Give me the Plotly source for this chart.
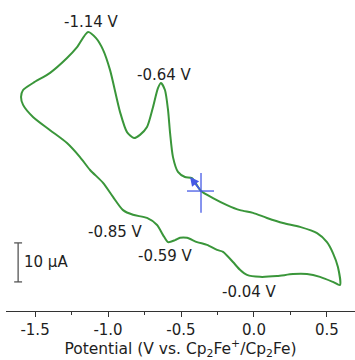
import plotly.graph_objects as go

# Cyclic voltammogram (potential in V, current in µA, arbitrary zero)
potential = [-0.363, -0.425, -0.473, -0.521, -0.555, -0.575, -0.589, -0.610, -0.637, -0.658,
             -0.692, -0.733, -0.781, -0.822, -0.870, -0.918, -0.986, -1.034, -1.082, -1.137,
             -1.212, -1.281, -1.397, -1.514, -1.582, -1.596, -1.582, -1.514, -1.397, -1.281,
             -1.192, -1.123, -1.034, -0.966, -0.897, -0.829, -0.733, -0.664, -0.623, -0.589,
             -0.541, -0.507, -0.459, -0.390, -0.322, -0.253, -0.212, -0.144, -0.096, -0.048,
             0.041, 0.158, 0.267, 0.363, 0.452, 0.541, 0.589, 0.575, 0.541, 0.500,
             0.432, 0.315, 0.199, 0.089, -0.007, -0.096, -0.185, -0.281, -0.363]
current = [2.3, 5.6, 5.9, 7.2, 11.0, 17.2, 23.1, 28.2, 30.0, 28.7,
           23.8, 18.7, 16.7, 15.9, 17.4, 22.6, 33.3, 38.5, 41.5, 43.1,
           39.2, 36.4, 32.6, 30.0, 28.2, 26.4, 24.4, 21.3, 17.9, 14.6,
           11.0, 7.7, 4.4, 0.8, -2.6, -3.8, -4.6, -6.4, -9.0, -10.8,
           -10.3, -9.7, -9.7, -10.8, -11.5, -12.8, -13.3, -15.9, -17.9, -19.2,
           -19.7, -19.5, -19.0, -19.0, -19.7, -21.0, -21.8, -17.2, -13.6, -10.8,
           -8.5, -6.9, -5.9, -4.6, -3.3, -2.6, -1.3, 0.5, 2.3]

peak_labels = ["-1.14 V", "-0.64 V", "-0.85 V", "-0.59 V", "-0.04 V"]
peak_label_x = [-1.116, -0.616, -0.952, -0.603, -0.034]
peak_label_y = [45.6, 32.1, -8.2, -14.4, -23.6]

tick_vals = [-1.5, -1.0, -0.5, 0.0, 0.5]
tick_text = ["-1.5", "-1.0", "-0.5", "0.0", "0.5"]

scale_bar_uA = 10
start_potential = -0.363
start_current = 2.3

green = "rgb(58,150,58)"
blue = "rgb(70,90,230)"
text_col = "#1e1e1e"
font_family = "DejaVu Sans, Liberation Sans, Arial, sans-serif"

fig = go.Figure()
fig.add_trace(go.Scatter(x=potential, y=current, mode="lines",
                         line=dict(color=green, width=2, shape="spline", smoothing=0.7),
                         hoverinfo="skip", showlegend=False))

for t, x, y in zip(peak_labels, peak_label_x, peak_label_y):
    fig.add_annotation(x=x, y=y, text=t, showarrow=False,
                       font=dict(size=15, color=text_col, family=font_family))

# start marker (cross) and scan-direction arrow
fig.add_shape(type="line", x0=start_potential - 0.096, x1=start_potential + 0.089,
              y0=start_current, y1=start_current, line=dict(color=blue, width=1.3))
fig.add_shape(type="line", x0=start_potential, x1=start_potential,
              y0=start_current + 4.6, y1=start_current - 5.6, line=dict(color=blue, width=1.3))
fig.add_annotation(x=-0.438, y=5.9, ax=start_potential, ay=start_current,
                   xref="x", yref="y", axref="x", ayref="y", text="",
                   showarrow=True, arrowhead=2, arrowsize=1, arrowwidth=1.8, arrowcolor=blue)

# scale bar
sb_x = -1.616
sb_y0 = -21.0
sb_y1 = sb_y0 + scale_bar_uA
bar_col = "#555555"
fig.add_shape(type="line", x0=sb_x, x1=sb_x, y0=sb_y0, y1=sb_y1, line=dict(color=bar_col, width=1.3))
fig.add_shape(type="line", x0=sb_x - 0.027, x1=sb_x + 0.027, y0=sb_y0, y1=sb_y0, line=dict(color=bar_col, width=1.3))
fig.add_shape(type="line", x0=sb_x - 0.027, x1=sb_x + 0.027, y0=sb_y1, y1=sb_y1, line=dict(color=bar_col, width=1.3))
fig.add_annotation(x=sb_x + 0.03, y=(sb_y0 + sb_y1) / 2, text=f"{scale_bar_uA} µA", showarrow=False,
                   xanchor="left", font=dict(size=15, color=text_col, family=font_family))

fig.update_layout(
    width=355, height=360,
    margin=dict(l=6, r=0, t=5, b=49),
    paper_bgcolor="white", plot_bgcolor="white",
    font=dict(family=font_family, color=text_col, size=15),
    xaxis=dict(range=[-1.699, 0.692], showgrid=False, zeroline=False,
               showline=True, linecolor="#333333", linewidth=1.3,
               ticks="outside", ticklen=5, tickwidth=1.3, tickcolor="#333333",
               tickvals=tick_vals, ticktext=tick_text, automargin=False,
               minor=dict(ticks="outside", ticklen=3, tickwidth=1, tickcolor="#333333", dtick=0.25, tick0=-1.5),
               tickfont=dict(size=15, color=text_col),
               title=dict(text="Potential (V vs. Cp<sub>2</sub>Fe<sup>+</sup>/Cp<sub>2</sub>Fe)",
                          font=dict(size=15.5, color=text_col), standoff=1)),
    yaxis=dict(range=[-28.46, 50], visible=False),
)

fig.write_html("out.html", config={"displayModeBar": False},
               post_script="document.body.style.margin='0';document.body.style.overflow='hidden';")
